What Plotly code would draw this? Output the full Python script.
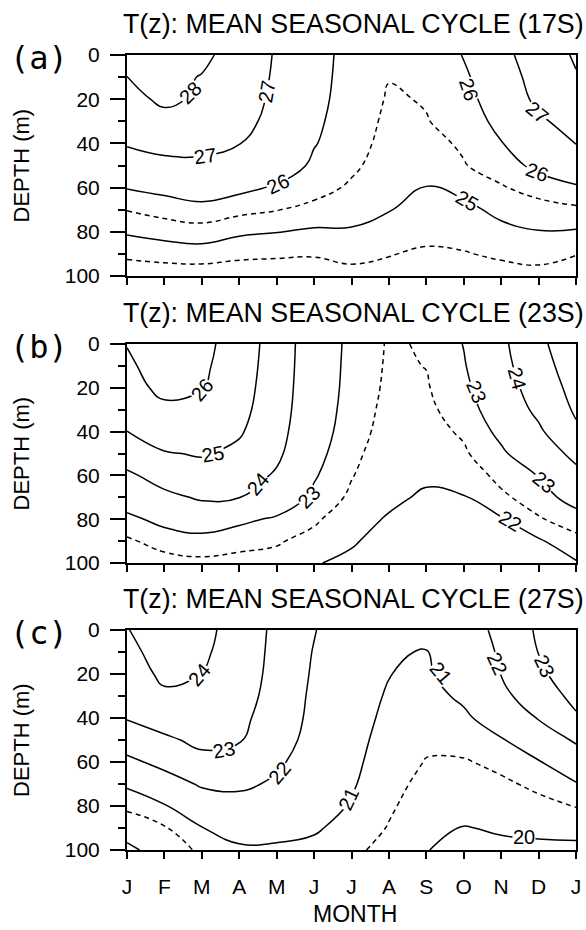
import numpy as np
import plotly.graph_objects as go

# ---------------- data ----------------
months = list(range(13))
month_labels = ["J", "F", "M", "A", "M", "J", "J", "A", "S", "O", "N", "D", "J"]
depths = [0, 10, 20, 30, 40, 50, 60, 70, 80, 90, 100]
depth_ticks = [0, 20, 40, 60, 80, 100]

# temperature columns (one list per month, values at depths 0..100 m)
T17S = [
    [28.3, 27.99, 27.8, 27.45, 27.08, 26.55, 26.03, 25.52, 25.07, 24.6, 24.2],
    [28.45, 28.3, 28.12, 27.8, 27.3, 26.75, 26.17, 25.7, 25.2, 24.7, 24.2],
    [28.25, 27.95, 27.9, 27.55, 27.2, 26.85, 26.35, 25.8, 25.3, 24.75, 24.2],
    [27.5, 27.42, 27.32, 27.18, 27.02, 26.6, 26.15, 25.65, 25.1, 24.6, 24.25],
    [26.93, 26.9, 26.86, 26.82, 26.65, 26.35, 25.93, 25.52, 25.02, 24.58, 24.2],
    [26.17, 26.15, 26.12, 26.08, 26.03, 25.9, 25.7, 25.35, 24.92, 24.55, 24.2],
    [25.85, 25.84, 25.83, 25.8, 25.72, 25.6, 25.42, 25.18, 24.95, 24.63, 24.35],
    [25.6, 25.52, 25.45, 25.38, 25.32, 25.25, 25.15, 25.02, 24.8, 24.53, 24.3],
    [25.7, 25.6, 25.53, 25.48, 25.35, 25.17, 24.99, 24.85, 24.7, 24.4, 24.3],
    [26.02, 25.88, 25.77, 25.67, 25.57, 25.47, 25.17, 24.85, 24.68, 24.47, 24.35],
    [26.7, 26.55, 26.38, 26.18, 25.97, 25.75, 25.45, 25.15, 24.85, 24.58, 24.3],
    [27.55, 27.35, 27.2, 26.88, 26.6, 26.15, 25.72, 25.28, 24.98, 24.65, 24.35],
    [28.09, 27.95, 27.65, 27.3, 27.02, 26.5, 25.92, 25.4, 24.95, 24.52, 24.2],
]
T23S = [
    [26.02, 25.9, 25.82, 25.45, 24.99, 24.45, 23.85, 23.35, 22.85, 22.42, 22.2],
    [26.35, 26.27, 26.12, 25.9, 25.55, 24.93, 24.35, 23.8, 23.18, 22.7, 22.3],
    [26.3, 26.18, 26.02, 25.75, 25.45, 25.08, 24.6, 24.1, 23.45, 22.75, 22.4],
    [25.5, 25.45, 25.38, 25.28, 25.1, 24.8, 24.4, 24.02, 23.12, 22.7, 22.3],
    [24.59, 24.55, 24.5, 24.43, 24.32, 24.17, 23.9, 23.45, 22.92, 22.56, 22.3],
    [23.41, 23.4, 23.38, 23.35, 23.3, 23.2, 23.06, 22.88, 22.6, 22.3, 22.03],
    [22.86, 22.84, 22.82, 22.78, 22.72, 22.63, 22.53, 22.4, 22.12, 22.05, 21.9],
    [22.45, 22.43, 22.4, 22.35, 22.3, 22.22, 22.13, 22.07, 21.97, 21.82, 21.7],
    [22.54, 22.51, 22.46, 22.4, 22.32, 22.2, 22.06, 21.95, 21.85, 21.75, 21.65],
    [23.02, 22.95, 22.85, 22.72, 22.57, 22.43, 22.2, 21.97, 21.85, 21.75, 21.65],
    [23.8, 23.7, 23.55, 23.38, 23.15, 22.9, 22.65, 22.4, 21.95, 21.8, 21.7],
    [24.8, 24.65, 24.45, 24.2, 23.85, 23.45, 23.02, 22.75, 22.45, 21.93, 21.8],
    [25.6, 25.45, 25.3, 25.12, 24.85, 24.25, 23.75, 23.25, 22.75, 22.35, 21.95],
]
T27S = [
    [23.97, 23.8, 23.75, 23.45, 23.05, 22.45, 21.8, 21.1, 20.6, 20.2, 19.9],
    [24.4, 24.3, 24.1, 23.92, 23.4, 22.85, 22.25, 21.6, 20.95, 20.45, 20.2],
    [24.3, 24.18, 23.99, 23.75, 23.5, 23.2, 22.75, 22.1, 21.5, 20.98, 20.6],
    [23.55, 23.48, 23.4, 23.3, 23.17, 23.05, 22.75, 22.2, 21.6, 21.25, 20.9],
    [22.8, 22.78, 22.76, 22.72, 22.65, 22.45, 22.15, 21.85, 21.5, 21.2, 20.9],
    [22.05, 21.95, 21.88, 21.8, 21.73, 21.65, 21.55, 21.45, 21.3, 21.07, 20.85],
    [21.3, 21.28, 21.26, 21.24, 21.22, 21.18, 21.13, 21.06, 20.95, 20.8, 20.6],
    [21.18, 21.04, 21.01, 20.95, 20.88, 20.8, 20.72, 20.65, 20.57, 20.47, 20.35],
    [21.12, 20.98, 20.92, 20.82, 20.7, 20.58, 20.48, 20.37, 20.25, 20.12, 20.01],
    [21.7, 21.5, 21.3, 21.1, 20.9, 20.72, 20.45, 20.3, 20.15, 19.98, 19.9],
    [22.16, 22.1, 22.02, 21.75, 21.3, 20.95, 20.65, 20.4, 20.2, 20.05, 19.9],
    [23.15, 23.02, 22.85, 22.55, 22.05, 21.5, 20.95, 20.62, 20.35, 20.1, 19.9],
    [23.8, 23.65, 23.45, 23.22, 22.9, 22.1, 21.55, 20.95, 20.52, 20.2, 19.85],
]

# contour labels: text, month, depth ; and text angles
LABELS_17S = [("28", 1.68, 17), ("27", 2.08, 45.6), ("27", 3.75, 16.5), ("26", 4.03, 58.5),
              ("25", 9.1, 66), ("26", 9.13, 15.4), ("27", 10.95, 26), ("26", 10.95, 53)]
ANGLES_17S = [-45, -8, -80, -25, 30, 72, 40, 20]
LABELS_23S = [("26", 2.0, 21), ("25", 2.3, 50.4), ("24", 3.5, 64), ("23", 4.87, 70),
              ("23", 9.34, 22), ("24", 10.42, 15.6), ("23", 11.14, 63), ("22", 10.24, 81)]
ANGLES_23S = [-50, -10, -50, -45, 68, 75, 40, 30]
LABELS_27S = [("24", 1.92, 20.3), ("23", 2.58, 54.6), ("22", 4.08, 65.2), ("21", 5.93, 77),
              ("21", 8.39, 19.5), ("22", 9.9, 15.4), ("23", 11.15, 16.5), ("20", 10.6, 94.2)]
ANGLES_27S = [-50, -10, -50, -65, 50, 65, 65, 0]

panels = [
    dict(T=T17S, title="T(z): MEAN SEASONAL CYCLE (17S)", tag="(a)",
         solid=(25, 28), dashed=(24.5, 25.5), labels=LABELS_17S, angles=ANGLES_17S),
    dict(T=T23S, title="T(z): MEAN SEASONAL CYCLE (23S)", tag="(b)",
         solid=(22, 26), dashed=(22.5, 22.5), labels=LABELS_23S, angles=ANGLES_23S),
    dict(T=T27S, title="T(z): MEAN SEASONAL CYCLE (27S)", tag="(c)",
         solid=(20, 24), dashed=(20.5, 20.5), labels=LABELS_27S, angles=ANGLES_27S),
]

# ---------------- layout geometry (pixels) ----------------
W, H = 586, 930
x_left, x_right = 127, 576
tops = [55, 344, 630]
bottoms = [276, 563, 850]

FONT = "Liberation Sans, Arial, Helvetica, sans-serif"

fig = go.Figure()
annotations = []
for i, p in enumerate(panels):
    z = np.array(p["T"]).T
    xa = "x" if i == 0 else f"x{i+1}"
    ya = "y" if i == 0 else f"y{i+1}"
    fig.add_trace(go.Contour(
        x=months, y=depths, z=z, xaxis=xa, yaxis=ya,
        autocontour=False, showscale=False, hoverinfo="skip",
        contours=dict(coloring="none", start=p["solid"][0], end=p["solid"][1], size=1,
                      showlabels=False),
        line=dict(color="black", width=1.5, smoothing=1.3),
    ))
    fig.add_trace(go.Contour(
        x=months, y=depths, z=z, xaxis=xa, yaxis=ya,
        autocontour=False, showscale=False, hoverinfo="skip",
        contours=dict(coloring="none", start=p["dashed"][0], end=p["dashed"][1], size=1,
                      showlabels=False),
        line=dict(color="black", width=1.5, smoothing=1.3, dash="5px,4px"),
    ))

    y0 = 1 - bottoms[i] / H
    y1 = 1 - tops[i] / H
    xkey = "xaxis" if i == 0 else f"xaxis{i+1}"
    ykey = "yaxis" if i == 0 else f"yaxis{i+1}"
    fig.layout[xkey] = dict(
        domain=[x_left / W, x_right / W], anchor=ya, range=[0, 12], automargin=False,
        tickmode="array", tickvals=months, ticktext=month_labels,
        showticklabels=(i == 2), ticks="outside", ticklen=7, tickwidth=2, tickcolor="black",
        showline=True, linewidth=2, linecolor="black", mirror=True,
        showgrid=False, zeroline=False, ticklabelstandoff=10,
        tickfont=dict(size=21, color="black", family=FONT),
    )
    fig.layout[ykey] = dict(
        domain=[y0, y1], anchor=xa, range=[100, 0], automargin=False,
        tickmode="array", tickvals=depth_ticks,
        ticks="outside", ticklen=15, tickwidth=2, tickcolor="black",
        minor=dict(tickvals=[10, 30, 50, 70, 90], ticks="outside", ticklen=7,
                   tickwidth=2, tickcolor="black"),
        showline=True, linewidth=2, linecolor="black", mirror=True,
        showgrid=False, zeroline=False, ticklabelstandoff=6,
        tickfont=dict(size=21, color="black", family=FONT),
    )
    for (txt, mx, dy), ang in zip(p["labels"], p["angles"]):
        annotations.append(dict(
            text=txt, xref=xa, yref=ya, x=mx, y=dy, textangle=ang,
            xanchor="center", yanchor="middle", showarrow=False,
            bgcolor="white", borderpad=0,
            font=dict(size=20, color="black", family=FONT)))
    annotations.append(dict(
        text=p["title"], xref="paper", yref="paper", x=585 / W, y=1 - (tops[i] - 31) / H,
        xanchor="right", yanchor="middle", showarrow=False, borderpad=0,
        font=dict(size=26.8, color="black", family=FONT)))
    annotations.append(dict(
        text=p["tag"], xref="paper", yref="paper", x=39 / W, y=1 - (tops[i] + 3) / H,
        xanchor="center", yanchor="middle", showarrow=False,
        font=dict(size=32, color="black", family="DejaVu Sans Mono, Liberation Mono, monospace")))
    annotations.append(dict(
        text="DEPTH (m)", xref="paper", yref="paper", x=21 / W,
        y=1 - (tops[i] + bottoms[i]) / 2 / H, textangle=-90,
        xanchor="center", yanchor="middle", showarrow=False,
        font=dict(size=22, color="black", family=FONT)))

annotations.append(dict(
    text="MONTH", xref="paper", yref="paper", x=355 / W, y=1 - 914 / H,
    xanchor="center", yanchor="middle", showarrow=False, borderpad=0,
    font=dict(size=23, color="black", family=FONT)))

fig.update_layout(
    template="none",
    width=W, height=H, margin=dict(l=0, r=0, t=0, b=0),
    paper_bgcolor="white", plot_bgcolor="white",
    showlegend=False, annotations=annotations,
    font=dict(family=FONT, color="black"),
)

fig.write_html("out.html")
